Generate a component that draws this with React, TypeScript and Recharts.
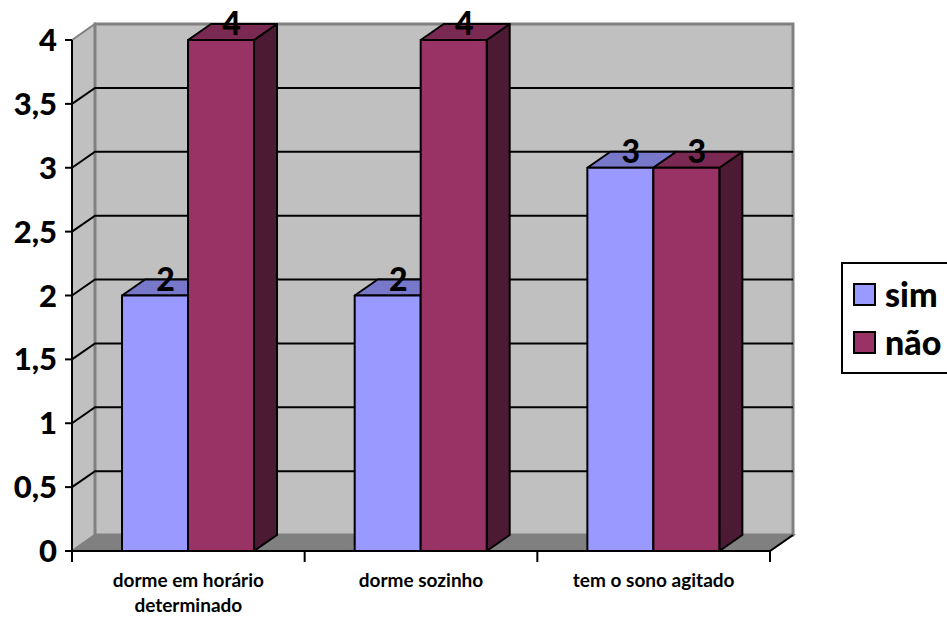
import {
  Bar,
  BarChart,
  LabelList,
  Legend,
  ReferenceArea,
  Text,
  XAxis,
  YAxis,
} from "recharts";

const CATEGORIES = [
  "dorme em horário determinado",
  "dorme sozinho",
  "tem o sono agitado",
];
const SERIES = ["sim", "não"];
const SIM = [2, 2, 3];
const NAO = [4, 4, 3];
const Y_TICKS = [0, 0.5, 1, 1.5, 2, 2.5, 3, 3.5, 4];
const Y_MAX = 4;

const data = CATEGORIES.map((name, i) => ({ name, sim: SIM[i], nao: NAO[i] }));

const FONT = "Lato, 'Open Sans', sans-serif";
// depth of the fake 3D extrusion
const DX = 23;
const DY = 16;

const WALL = "#C0C0C0";
const EDGE = "#808080";
const SIM_FRONT = "#9999FF";
const SIM_TOP = "#7878CB";
const SIM_SIDE = "#4C4C80";
const NAO_FRONT = "#993366";
const NAO_TOP = "#7A2952";
const NAO_SIDE = "#4C1A33";

const fmt = (v: number) => String(v).replace(".", ",");

// back wall, side wall, floor and the gridlines on them
function Walls(props: any) {
  const { x, y, width: w, height: h } = props;
  if (x == null || y == null) return null;
  const bottom = y + h;
  const gy = (v: number) => bottom - (v / Y_MAX) * h;
  return (
    <g>
      <polygon
        points={`${x},${y} ${x + DX},${y - DY} ${x + DX},${bottom - DY} ${x},${bottom}`}
        fill={WALL}
        stroke={EDGE}
        strokeWidth={2}
      />
      <rect
        x={x + DX}
        y={y - DY}
        width={w}
        height={h}
        fill={WALL}
        stroke={EDGE}
        strokeWidth={3}
      />
      <polygon
        points={`${x},${bottom} ${x + DX},${bottom - DY} ${x + w + DX},${bottom - DY} ${x + w},${bottom}`}
        fill={EDGE}
        stroke={EDGE}
        strokeWidth={2}
      />
      {Y_TICKS.filter((v) => v > 0 && v < Y_MAX).map((v) => (
        <polyline
          key={v}
          points={`${x},${gy(v)} ${x + DX},${gy(v) - DY} ${x + w + DX},${gy(v) - DY}`}
          fill="none"
          stroke="#000"
          strokeWidth={2}
        />
      ))}
      <line
        x1={x + w}
        y1={bottom}
        x2={x + w + DX}
        y2={bottom - DY}
        stroke="#000"
        strokeWidth={2}
      />
    </g>
  );
}

function Box3D(props: any) {
  const { x, y, width: w, height: h, fill, topFill, sideFill } = props;
  if (x == null || y == null || !w) return null;
  const b = y + h;
  return (
    <g stroke="#000" strokeWidth={2} strokeLinejoin="round">
      <polygon
        points={`${x + w},${y} ${x + w + DX},${y - DY} ${x + w + DX},${b - DY} ${x + w},${b}`}
        fill={sideFill}
      />
      <polygon
        points={`${x},${y} ${x + DX},${y - DY} ${x + w + DX},${y - DY} ${x + w},${y}`}
        fill={topFill}
      />
      <rect x={x} y={y} width={w} height={h} fill={fill} />
    </g>
  );
}

function ValueLabel(props: any) {
  const vb = props.viewBox && props.viewBox.width != null ? props.viewBox : props;
  const { x, y, width } = vb;
  if (x == null || y == null) return null;
  return (
    <text
      x={x + width / 2 + DX / 2 - 1}
      y={y - 5}
      textAnchor="middle"
      fill="#000"
      fontFamily={FONT}
      fontWeight={900}
      fontSize={32}
    >
      {props.value}
    </text>
  );
}

function CategoryTick(props: any) {
  const { x, y, payload, index, width } = props;
  const half =
    payload && typeof payload.offset === "number" && payload.offset > 0
      ? payload.offset
      : width / CATEGORIES.length / 2;
  const top = y;
  const isLast = index === CATEGORIES.length - 1;
  const style = { fontFamily: FONT, fontWeight: 700, fontSize: 19 };
  return (
    <g>
      <line x1={x - half} y1={top} x2={x - half} y2={top + 11} stroke="#000" strokeWidth={2} />
      {isLast && (
        <line x1={x + half} y1={top} x2={x + half} y2={top + 11} stroke="#000" strokeWidth={2} />
      )}
      <Text
        x={x}
        y={top + 23}
        width={half * 2 - 20}
        textAnchor="middle"
        verticalAnchor="start"
        lineHeight={25}
        fill="#000"
        style={style}
        fontFamily={FONT}
        fontWeight={700}
        fontSize={19}
      >
        {payload.value}
      </Text>
    </g>
  );
}

function LegendBox(props: any) {
  const items = [...(props.payload || [])].sort(
    (a: any, b: any) => SERIES.indexOf(a.value) - SERIES.indexOf(b.value),
  );
  return (
    <div
      style={{
        border: "2px solid #000",
        background: "#fff",
        padding: "6px 0 6px 10px",
        width: 130,
        boxSizing: "border-box",
        fontFamily: FONT,
        fontWeight: 900,
        fontSize: 34,
        color: "#000",
      }}
    >
      {items.map((it: any) => (
        <div
          key={it.value}
          style={{ display: "flex", alignItems: "center", height: 48, lineHeight: "48px" }}
        >
          <span
            style={{
              display: "inline-block",
              width: 19,
              height: 19,
              background: it.color,
              border: "2px solid #000",
              marginRight: 9,
            }}
          />
          {it.value}
        </div>
      ))}
    </div>
  );
}

export default function App() {
  return (
    <div
      style={{
        position: "absolute",
        left: 0,
        top: 0,
        width: 947,
        height: 618,
        overflow: "hidden",
        background: "#fff",
      }}
    >
      <BarChart
        width={947}
        height={618}
        data={data}
        margin={{ top: 40, right: 177, bottom: 0, left: 12 }}
        barCategoryGap="21.5%"
        barGap={0}
      >
        <XAxis
          dataKey="name"
          height={67}
          axisLine={{ stroke: "#000", strokeWidth: 2 }}
          tickLine={false}
          tickSize={0}
          tickMargin={0}
          interval={0}
          tick={<CategoryTick />}
        />
        <YAxis
          type="number"
          domain={[0, Y_MAX]}
          ticks={Y_TICKS}
          interval={0}
          width={60}
          axisLine={{ stroke: "#000", strokeWidth: 2 }}
          tickLine={{ stroke: "#000", strokeWidth: 2 }}
          tickSize={7}
          tickMargin={8}
          tickFormatter={fmt}
          tick={{ fill: "#000", fontSize: 31, fontWeight: 900, fontFamily: FONT }}
        />
        <ReferenceArea y1={0} y2={Y_MAX} shape={<Walls />} ifOverflow="visible" />
        <Legend
          layout="vertical"
          align="center"
          verticalAlign="middle"
          wrapperStyle={{ left: 841, top: 262, width: 130 }}
          content={<LegendBox />}
        />
        <Bar
          dataKey="sim"
          name={SERIES[0]}
          fill={SIM_FRONT}
          isAnimationActive={false}
          shape={<Box3D topFill={SIM_TOP} sideFill={SIM_SIDE} />}
        >
          <LabelList dataKey="sim" content={<ValueLabel />} />
        </Bar>
        <Bar
          dataKey="nao"
          name={SERIES[1]}
          fill={NAO_FRONT}
          isAnimationActive={false}
          shape={<Box3D topFill={NAO_TOP} sideFill={NAO_SIDE} />}
        >
          <LabelList dataKey="nao" content={<ValueLabel />} />
        </Bar>
      </BarChart>
    </div>
  );
}
